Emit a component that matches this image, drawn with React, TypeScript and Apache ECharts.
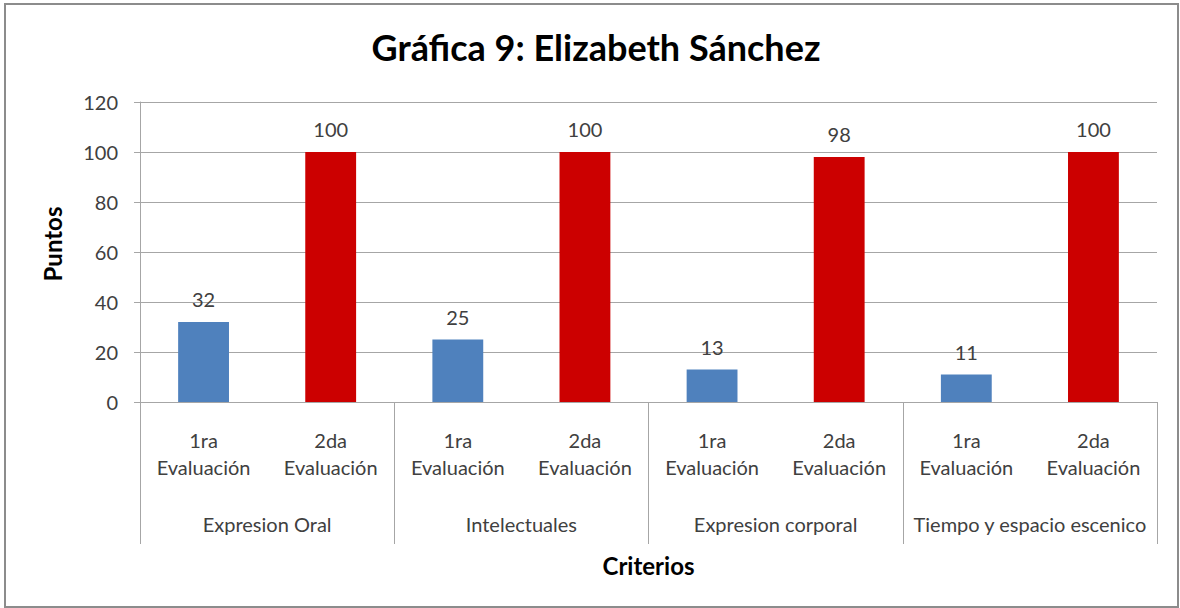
import React, { useEffect, useRef } from "react";
import * as echarts from "echarts";

const titleText = "Gráfica 9: Elizabeth Sánchez";
const evalLabels = ["1ra\nEvaluación", "2da\nEvaluación", "1ra\nEvaluación", "2da\nEvaluación", "1ra\nEvaluación", "2da\nEvaluación", "1ra\nEvaluación", "2da\nEvaluación"];
const groups = ["Expresion Oral", "Intelectuales", "Expresion corporal", "Tiempo y espacio escenico"];
const values = [32, 100, 25, 100, 13, 98, 11, 100];
const colors = ["#4f81bd", "#cc0000"];
const yName = "Puntos";
const xName = "Criterios";

const FONT = "Lato, 'Open Sans', sans-serif";
const TXT = "#404040";
const AX = "#a6a6a6";

export default function App() {
  const ref = useRef<HTMLDivElement>(null);
  useEffect(() => {
    const chart = echarts.init(ref.current!, null, { renderer: "svg" });
    chart.setOption({
      animation: false,
      backgroundColor: "#ffffff",
      textStyle: { fontFamily: FONT },
      title: {
        text: titleText,
        left: 591,
        top: 24,
        textAlign: "center",
        textStyle: { fontFamily: FONT, fontSize: 36, fontWeight: "bold", color: "#000" },
      },
      graphic: [
        {
          type: "rect",
          shape: { x: 5, y: 4, width: 1173, height: 603 },
          style: { fill: "none", stroke: "#8c8c8c", lineWidth: 2 },
          silent: true,
        },
        {
          type: "text",
          x: 52,
          y: 244,
          rotation: Math.PI / 2,
          style: {
            text: yName,
            fontSize: 24,
            fontWeight: "bold",
            fontFamily: FONT,
            fill: "#000",
            align: "center",
            verticalAlign: "middle",
          },
          silent: true,
        },
      ],
      grid: { left: 140, right: 23, top: 102, bottom: 206, containLabel: false },
      xAxis: [
        {
          type: "category",
          data: evalLabels,
          position: "bottom",
          axisLine: { show: true, lineStyle: { color: AX, width: 1 } },
          axisTick: { show: false },
          axisLabel: {
            interval: 0,
            margin: 24,
            fontSize: 20,
            lineHeight: 27,
            color: TXT,
            fontFamily: FONT,
          },
        },
        {
          type: "category",
          data: groups,
          position: "bottom",
          axisLine: { show: false },
          axisTick: { show: true, length: 142, inside: false, lineStyle: { color: AX, width: 1 } },
          axisLabel: { interval: 0, margin: 112, fontSize: 20, color: TXT, fontFamily: FONT },
          name: xName,
          nameLocation: "middle",
          nameGap: 151,
          nameTextStyle: { fontSize: 24, fontWeight: "bold", color: "#000", fontFamily: FONT },
        },
      ],
      yAxis: {
        type: "value",
        min: 0,
        max: 120,
        interval: 20,
        axisLine: { show: true, lineStyle: { color: AX, width: 1 } },
        axisTick: { show: true, length: 6, lineStyle: { color: AX } },
        splitLine: { show: true, lineStyle: { color: AX, width: 1 } },
        axisLabel: { margin: 22, fontSize: 20, color: TXT, fontFamily: FONT },
      },
      series: [
        {
          type: "bar",
          xAxisIndex: 0,
          barWidth: "40%",
          data: values.map((v, i) => ({ value: v, itemStyle: { color: colors[i % 2] } })),
          label: {
            show: true,
            position: "top",
            distance: 13,
            fontSize: 20,
            color: TXT,
            fontFamily: FONT,
          },
        },
      ],
    });
    return () => chart.dispose();
  }, []);
  return <div ref={ref} style={{ position: "absolute", left: 0, top: 0, width: 1180, height: 608 }} />;
}
